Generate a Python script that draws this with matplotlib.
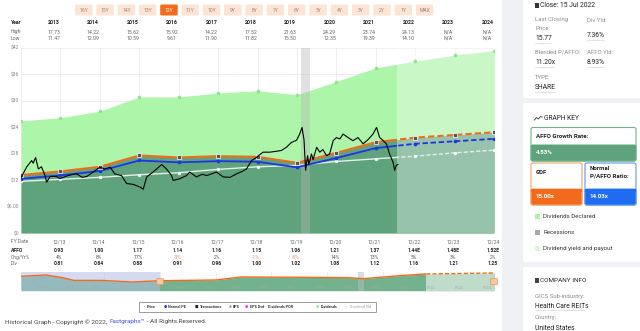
import matplotlib
matplotlib.use('Agg')
import matplotlib.pyplot as plt
import matplotlib.transforms as mtransforms
from matplotlib.patches import Rectangle, FancyBboxPatch

plt.rcParams['font.family'] = ['Roboto', 'DejaVu Sans']

W, H = 640, 331

# ---- data ----
fy_t = [2013, 2014, 2015, 2016, 2017, 2018, 2019, 2020, 2021, 2022, 2023, 2024, 2025]  # 12/12 .. 12/24
fy_labels = ['12/13', '12/14', '12/15', '12/16', '12/17', '12/18', '12/19', '12/20',
             '12/21', '12/22', '12/23', '12/24']
affo = [0.875, 0.93, 1.00, 1.17, 1.14, 1.16, 1.15, 1.06, 1.21, 1.37, 1.44, 1.48, 1.52]
div = [0.78, 0.81, 0.84, 0.88, 0.91, 0.96, 1.00, 1.02, 1.08, 1.12, 1.16, 1.21, 1.25]
div_top = [25.4, 26.1, 27.6, 30.8, 30.8, 31.7, 32.2, 31.3, 34.3, 37.4, 38.9, 40.3, 41.3]
gdf = 15.0
normal_pe = 14.03
today = 2022.54
recession = (2020.1, 2020.34)

affo_txt = ['0.93', '1.00', '1.17', '1.14', '1.16', '1.15', '1.06', '1.21', '1.37',
            '1.44E', '1.48E', '1.52E']
chg_txt = ['4%', '8%', '17%', '-3%', '2%', '-1%', '-8%', '14%', '13%', '5%', '3%', '2%']
div_txt = ['0.81', '0.84', '0.88', '0.91', '0.96', '1.00', '1.02', '1.08', '1.12',
           '1.16', '1.21', '1.25']

years = [2013, 2014, 2015, 2016, 2017, 2018, 2019, 2020, 2021, 2022, 2023, 2024]
high = ['17.73', '14.22', '15.62', '15.92', '14.22', '17.52', '21.63', '24.29', '23.74',
        '24.13', 'N/A', 'N/A']
low = ['11.47', '12.09', '10.59', '9.61', '11.90', '11.82', '15.50', '12.35', '19.39',
       '14.10', 'N/A', 'N/A']

price_t = [2013.00, 2013.14, 2013.27, 2013.31, 2013.37, 2013.44, 2013.52, 2013.61, 2013.65,
           2013.74, 2013.90, 2013.99,
           2014.16, 2014.28, 2014.41, 2014.55, 2014.67, 2014.83,
           2015.00, 2015.13, 2015.26, 2015.38, 2015.55, 2015.68, 2015.85,
           2016.02, 2016.10, 2016.19, 2016.35, 2016.57, 2016.69, 2016.82, 2016.86,
           2017.03, 2017.20, 2017.28, 2017.45, 2017.60, 2017.71, 2017.96,
           2018.13, 2018.30, 2018.47, 2018.60, 2018.72, 2018.85, 2018.97,
           2019.14, 2019.31, 2019.48, 2019.61, 2019.73, 2019.86, 2019.99,
           2020.07, 2020.13, 2020.18, 2020.22, 2020.27, 2020.30, 2020.37, 2020.41, 2020.50,
           2020.58, 2020.66, 2020.75, 2020.83, 2020.92,
           2021.00, 2021.09, 2021.17, 2021.30, 2021.42, 2021.55, 2021.68, 2021.80, 2021.93,
           2022.02, 2022.10, 2022.18, 2022.27, 2022.35, 2022.44, 2022.48, 2022.52, 2022.56]
price_v = [12.5, 14.9, 16.4, 15.8, 17.1, 14.5, 15.0, 13.0, 11.5, 12.8, 12.8, 12.3,
           12.9, 13.2, 13.4, 12.6, 12.8, 13.8,
           14.9, 14.5, 14.9, 13.4, 13.0, 11.2, 11.0,
           10.4, 9.9, 12.7, 13.8, 15.5, 14.5, 13.0, 11.9,
           12.3, 13.0, 13.8, 12.7, 13.3, 13.0, 13.8,
           12.7, 12.6, 13.4, 13.9, 14.5, 16.4, 17.1,
           18.3, 18.3, 18.5, 18.7, 19.4, 20.5, 21.0,
           22.4, 23.9, 21.1, 14.2, 17.5, 15.5, 17.9, 16.6, 19.4,
           18.3, 18.9, 17.5, 17.9, 20.9,
           21.6, 21.3, 22.4, 21.6, 20.9, 21.6, 20.2, 21.1, 22.4,
           23.9, 21.6, 21.0, 20.2, 17.9, 16.0, 14.2, 15.3, 15.5]

nav_t = [2008.0, 2008.9, 2009.5, 2009.9, 2010.9, 2012.0, 2013.0, 2015.0, 2015.9,
         2018.0, 2019.8, 2020.3, 2021.6, 2022.5, 2025.0]
nav_v = [14.4, 15.7, 13.0, 10.3, 10.3, 8.7, 10.0, 10.7, 13.7, 13.4, 13.0, 12.0, 15.0, 16.7, 17.7]

buttons = ['16Y', '15Y', '14Y', '13Y', '12Y', '11Y', '10Y', '9Y', '8Y', '7Y', '6Y', '5Y',
           '4Y', '3Y', '2Y', '1Y', 'MAX']
selected = '12Y'

# colours
LIGHT_GREEN = '#adf5a8'
DARK_GREEN = '#5fa37c'
ORANGE = '#f26b1d'
BLUE = '#1e34e6'

fig = plt.figure(figsize=(W / 100, H / 100), dpi=100)
fig.patch.set_facecolor('white')

# pixel canvas for all the page decoration
cv = fig.add_axes([0, 0, 1, 1])
cv.set_xlim(0, W)
cv.set_ylim(H, 0)
cv.axis('off')

# main chart
L, R, T, B = 21, 494, 47.5, 233
ax = fig.add_axes([L / W, 1 - B / H, (R - L) / W, (B - T) / H])
ax.set_xlim(2013, 2025)
ax.set_ylim(0, 42)

orange_v = [a * gdf for a in affo]
blue_v = [a * normal_pe for a in affo]
white_v = [d * gdf for d in div]

ax.fill_between(fy_t, 0, div_top, color=LIGHT_GREEN, lw=0, zorder=1)
ax.fill_between(fy_t, 0, orange_v, color=DARK_GREEN, lw=0, zorder=1.1)
ax.axvspan(today, 2025, color='white', alpha=0.35, lw=0, zorder=1.2)
ax.axvspan(*recession, color='#b5b5b5', alpha=0.4, lw=0, zorder=1.3)
ax.plot(fy_t, div_top, ls='none', marker='o', ms=1.6, color='#8fe58b', zorder=1.4)


def split_line(x, y, **kw):
    solid, = ax.plot(x, y, **kw)
    solid.set_clip_path(Rectangle((2013, -5), today - 2013, 60, transform=ax.transData))
    dashed, = ax.plot(x, y, ls=(0, (3, 1.5)), **kw)
    dashed.set_clip_path(Rectangle((today, -5), 2025 - today, 60, transform=ax.transData))


split_line(fy_t, white_v, color='#e6f0e8', lw=1.0, zorder=3)
split_line(fy_t, blue_v, color=BLUE, lw=1.3, zorder=4)
split_line(fy_t, orange_v, color=ORANGE, lw=1.5, zorder=5)
ax.plot(fy_t, white_v, ls='none', marker='o', ms=1.4, color='white', zorder=3.5)
ax.plot(fy_t, blue_v, ls='none', marker='o', ms=1.6, color=BLUE, zorder=4.5)
ax.plot(fy_t, orange_v, ls='none', marker='s', ms=2.2, mfc='#555555', mec='white',
        mew=0.5, zorder=5.5)
ax.plot(price_t, price_v, color='black', lw=0.8, zorder=6)

ax.set_yticks([0, 6, 12, 18, 24, 30, 36, 42])
ax.set_yticklabels(['$0', '$6.00', '$12', '$18', '$24', '$30', '$36', '$42'])
ax.set_xticks(fy_t)
ax.set_xticklabels([])
ax.tick_params(length=0, labelsize=3.6, labelcolor='#888888', pad=1.5)
ax.grid(color='#e9e9e9', lw=0.5)
ax.set_axisbelow(True)
for s in ax.spines.values():
    s.set_visible(False)

# text aligned with chart years
tr = mtransforms.blended_transform_factory(ax.transData, cv.transData)

# range buttons
for i, b in enumerate(buttons):
    x0 = 75 + i * 21.3
    sel = b == selected
    cv.add_patch(FancyBboxPatch((x0, 4.5), 17.5, 11, boxstyle='round,pad=0,rounding_size=1.2',
                                fc=ORANGE if sel else '#fde4d6', ec='none'))
    cv.text(x0 + 8.75, 10.2, b, fontsize=3.6, ha='center', va='center',
            color='white' if sel else '#9a8478')

# year / high / low table
cv.text(11, 23, 'Year', fontsize=3.7, fontweight='bold', va='center', color='#222222')
cv.text(11, 32, 'High', fontsize=3.7, va='center', color='#666666')
cv.text(11, 38, 'Low', fontsize=3.7, va='center', color='#666666')
for y, h, lo in zip(years, high, low):
    cv.text(y + 0.83, 23, str(y), transform=tr, fontsize=3.7, fontweight='bold',
            ha='center', va='center', color='#222222')
    cv.text(y + 0.83, 32, h, transform=tr, fontsize=3.7, ha='center', va='center', color='#666666')
    cv.text(y + 0.83, 38, lo, transform=tr, fontsize=3.7, ha='center', va='center', color='#666666')

# FY table
cv.text(11, 241.7, 'FY Date', fontsize=3.6, va='center', color='#666666')
cv.text(11, 250.7, 'AFFO', fontsize=3.6, fontweight='bold', va='center', color='#222222')
cv.text(11, 257.3, 'Chg/Yr%', fontsize=3.6, va='center', color='#666666')
cv.text(11, 263.7, 'Div', fontsize=3.6, va='center', color='#666666')
for t, lab, a, c, d in zip(fy_t[1:], fy_labels, affo_txt, chg_txt, div_txt):
    xx = t - 0.03
    cv.text(xx, 241.7, lab, transform=tr, fontsize=3.6, ha='center', va='center', color='#666666')
    cv.text(xx, 250.7, a, transform=tr, fontsize=3.6, fontweight='bold', ha='center',
            va='center', color='#222222')
    cv.text(xx, 257.3, c, transform=tr, fontsize=3.6, ha='center', va='center',
            color='#f0895a' if c.startswith('-') else '#555555')
    cv.text(xx, 263.7, d, transform=tr, fontsize=3.6, fontweight='bold', ha='center',
            va='center', color='#222222')

# navigator
nv = fig.add_axes([L / W, 1 - 290.7 / H, (R - L) / W, 19 / H])
nv.set_xlim(2008, 2025)
nv.set_ylim(0, 19)
nv.set_facecolor('#fbfbfb')
nv.fill_between(nav_t, 0, nav_v, color='#72b28c', lw=0, zorder=1)
nav_solid, = nv.plot(nav_t, nav_v, color=ORANGE, lw=1.0, zorder=3)
nav_solid.set_clip_path(Rectangle((2008, -5), today - 2008, 40, transform=nv.transData))
nav_dash, = nv.plot(nav_t, nav_v, color=ORANGE, lw=1.0, ls=(0, (3, 1.5)), zorder=3)
nav_dash.set_clip_path(Rectangle((today, -5), 2025 - today, 40, transform=nv.transData))
nv.axvspan(today, 2025, color='white', alpha=0.55, lw=0, zorder=2)
nv.axvspan(*recession, color='#bbbbbb', alpha=0.5, lw=0, zorder=2)
nv.axvspan(2008, 2013, color='#b4c0e8', alpha=0.55, lw=0, zorder=2.5)
for yy in range(8, 25):
    nv.text(2000 + yy + 0.75, 2.5, 'FY%02d' % yy, fontsize=2.8, ha='center', va='center',
            color='#a8a8a8', zorder=4)
nv.set_xticks(range(2009, 2025, 2))
nv.grid(axis='x', color='#e6e6e6', lw=0.5)
nv.set_axisbelow(True)
nv.tick_params(length=0, labelbottom=False, labelleft=False)
nv.set_yticks([])
for s in nv.spines.values():
    s.set_visible(False)
for hx in (2013, 2025):
    nv.add_patch(FancyBboxPatch((hx - 0.12, 6), 0.24, 6, boxstyle='round,pad=0,rounding_size=0.1',
                                fc='#f8c9a6', ec='#f0904f', lw=0.5, zorder=5, clip_on=False))

# chart legend
cv.add_patch(Rectangle((139, 302), 237, 9.5, fc='white', ec='#8a8a8a', lw=0.6))
leg_items = [(144, '-', '#222222', 'Price'), (165, '●', BLUE, 'Normal PE'),
             (196.5, '■', '#222222', 'Transactions'), (230, '▲', '#888888', 'EPS'),
             (246.5, '●', '#ee33ee', 'EPS Dvd'), (265, '-', '#cccccc', 'Dividends POR'),
             (317.5, '●', '#9ee89a', 'Dividends'), (346.5, '+', '#cccccc', 'Dividend Yld')]
for x0, m, col, lab in leg_items:
    cv.text(x0, 306.8, m, fontsize=2.6, color=col, ha='center', va='center',
            family=['DejaVu Sans'])
    cv.text(x0 + 3, 306.8, lab, fontsize=2.7, fontweight='bold', va='center',
            color='#bbbbbb' if lab == 'Dividend Yld' else '#333333')

# copyright, pieces placed one after another
fig.canvas.draw()
rend = fig.canvas.get_renderer()
cx = 5
for piece, col in (('Historical Graph - Copyright © 2022, ', '#444444'),
                   ('Fastgraphs\u2122', '#3b55d9'),
                   (' - All Rights Reserved.', '#444444')):
    t = cv.text(cx, 322, piece, fontsize=4.6, va='center', color=col)
    bb = t.get_window_extent(rend)
    cx += bb.width * 100 / fig.dpi + 0.5

# right side panel
cv.add_patch(Rectangle((502, 0), 138, H, fc='#eff1f4', ec='none'))
for y0, hh in ((-2, 100), (103, 159), (267, 70)):
    cv.add_patch(FancyBboxPatch((523, y0), 125, hh, boxstyle='round,pad=0,rounding_size=2',
                                fc='white', ec='none'))


def dotted(x0, x1, y):
    cv.plot([x0, x1], [y, y], color='#999999', lw=0.4, ls=(0, (1, 1)))


cv.add_patch(Rectangle((535, 2.8), 4.2, 5, fc='#333333', ec='none'))
cv.text(540.5, 5.5, 'Close: 15 Jul 2022', fontsize=4.9, va='center', color='#222222')
gray = '#8c8c8c'
cv.text(535, 20, 'Last Closing', fontsize=4.3, va='center', color=gray)
cv.text(535, 28.5, 'Price:', fontsize=4.3, va='center', color=gray)
cv.text(587, 20, 'Div Yld:', fontsize=4.3, va='center', color=gray)
cv.text(535, 38.5, '15.77', fontsize=4.9, va='center', color='#222222')
dotted(535, 551, 42.5)
cv.text(587, 35.5, '7.36%', fontsize=4.9, va='center', color='#222222')
dotted(587, 604, 39.5)
cv.text(535, 52.5, 'Blended P/AFFO:', fontsize=4.3, va='center', color=gray)
cv.text(587, 52.5, 'AFFO Yld:', fontsize=4.3, va='center', color=gray)
cv.text(535, 62.5, '11.20x', fontsize=4.9, va='center', color='#222222')
dotted(535, 554, 66.5)
cv.text(587, 62.5, '8.93%', fontsize=4.9, va='center', color='#222222')
dotted(587, 604, 66.5)
cv.text(535, 77.5, 'TYPE:', fontsize=4.3, va='center', color=gray)
cv.text(535, 87.5, 'SHARE', fontsize=4.9, va='center', color='#222222')
dotted(535, 555, 91.5)

# small trend icon drawn as a shape, then the heading
cv.plot([534.5, 536.5, 538.5, 540.5, 542], [120, 117.5, 119, 116.5, 117], color='#333333', lw=0.6)
cv.text(544, 118, 'GRAPH KEY', fontsize=4.8, va='center', color='#222222')


def key_box(x0, y0, w, h, split, col, edge, lines, value):
    cv.add_patch(FancyBboxPatch((x0, y0), w, h, boxstyle='round,pad=0,rounding_size=2',
                                fc='white', ec=edge, lw=0.8))
    cv.add_patch(FancyBboxPatch((x0, split), w, y0 + h - split,
                                boxstyle='round,pad=0,rounding_size=2', fc=col, ec=edge, lw=0.8))
    cv.add_patch(Rectangle((x0 + 0.4, split), w - 0.8, 2.5, fc=col, ec='none'))
    for k, ln in enumerate(lines):
        cv.text(x0 + 4.5, y0 + 9 + 8 * k - (4 if len(lines) > 1 else 0), ln, fontsize=4.4,
                fontweight='bold', va='center', color='#222222')
    cv.text(x0 + 4.5, split + (y0 + h - split) / 2, value, fontsize=4.4, fontweight='bold',
            va='center', color='white')


key_box(531, 127.5, 105, 33.5, 145, DARK_GREEN, '#6fb38a', ['AFFO Growth Rate:'], '4.53%')
key_box(531, 163, 51, 42, 189, ORANGE, '#f6a26a', ['GDF'], '15.00x')
key_box(585, 163, 51, 42, 189, '#1f6cf0', '#5a95f2', ['Normal', 'P/AFFO Ratio:'], '14.03x')
for yy, col, lab in ((216.5, '#b3f0ad', 'Dividends Declared'), (232.5, '#a8a8a8', 'Recessions'),
                     (248.5, '#e2f3df', 'Dividend yield and payout')):
    cv.add_patch(Rectangle((534.5, yy - 2.7), 5.4, 5.4, fc=col, ec='none'))
    cv.text(543, yy, lab, fontsize=4.4, va='center', color='#333333')

cv.add_patch(Rectangle((535, 277.5), 4.2, 5, fc='#444444', ec='none'))
cv.text(540, 280, 'COMPANY INFO', fontsize=4.6, va='center', color='#222222')
cv.text(535, 296.5, 'GICS Sub-industry:', fontsize=4.3, va='center', color=gray)
cv.text(535, 306, 'Health Care REITs', fontsize=4.9, va='center', color='#222222')
dotted(535, 585, 310)
cv.text(535, 318, 'Country:', fontsize=4.3, va='center', color=gray)
cv.text(535, 329, 'United States', fontsize=4.9, va='center', color='#222222')

fig.savefig('out.png', dpi=100)
